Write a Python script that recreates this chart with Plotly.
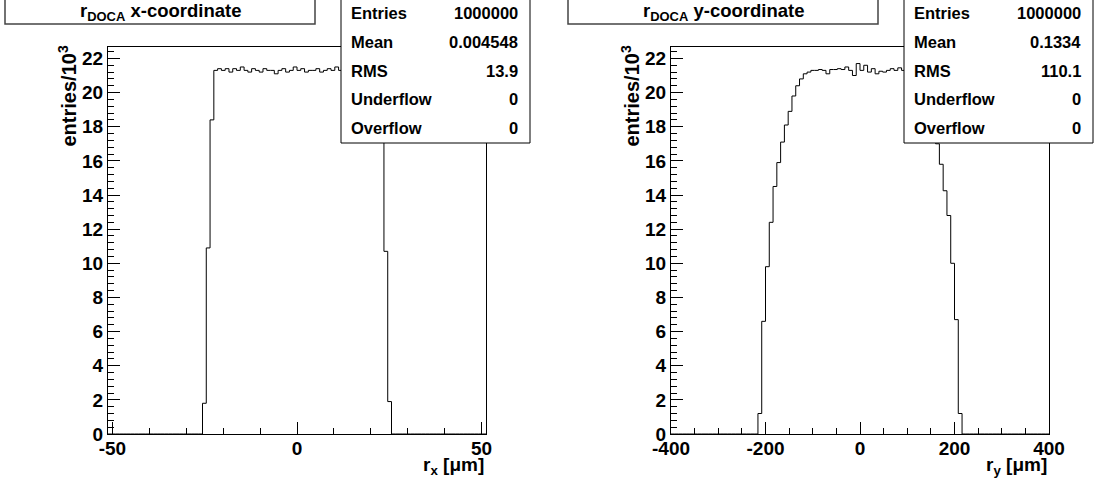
import numpy as np
import plotly.graph_objects as go

W, H = 1096, 485

# ---------------- data (entries / 10^3) ----------------
# left histogram: r_x, 100 bins from -51.2 to 51.2 um
rx_range = (-51.2, 51.2)
rx_nbins = 100
rx_first_bin = 25          # index of first non-empty bin
rx_counts = [1.8, 10.9, 18.4,
             21.3, 21.4, 21.3, 21.4, 21.2, 21.4, 21.3, 21.5, 21.3, 21.2, 21.4,
             21.3, 21.2, 21.4, 21.3, 21.3, 21.1, 21.3, 21.4, 21.2, 21.3, 21.5,
             21.3, 21.4, 21.2, 21.3, 21.3, 21.4, 21.2, 21.3, 21.4, 21.3, 21.5,
             21.3, 21.2, 21.4, 21.3, 21.3, 21.2, 21.4, 21.3, 21.3, 21.4, 21.2,
             18.4, 10.7, 1.9]

# right histogram: r_y, 100 bins from -400 to 400 um
ry_range = (-400.0, 400.0)
ry_nbins = 100
ry_first_bin = 23
ry_counts = [1.2, 6.6, 9.8, 12.4, 14.5, 15.9, 17.1, 18.1, 18.9, 19.8, 20.4, 20.8, 21.1,
             21.2, 21.3, 21.3, 21.35, 21.3, 21.1, 21.35, 21.35, 21.4, 21.35, 21.5, 21.3,
             21.0, 21.7, 21.3, 21.6, 21.2, 21.4, 21.1, 21.25, 21.2, 21.3, 21.4, 21.3,
             21.45, 21.3, 21.2, 21.3,
             21.0, 20.8, 20.3, 19.7, 19.0, 18.0, 17.0, 15.8, 14.25, 12.8, 10.0, 6.7, 1.2]

y_range = (0.0, 22.67)

# axis tick labels
rx_tickvals = [-50, 0, 50]
rx_ticktext = ["-50", "0", "50"]
ry_tickvals = [-400, -200, 0, 200, 400]
ry_ticktext = ["-400", "-200", "0", "200", "400"]
y_tickvals = [0, 2, 4, 6, 8, 10, 12, 14, 16, 18, 20, 22]
y_ticktext = ["0", "2", "4", "6", "8", "10", "12", "14", "16", "18", "20", "22"]

titles = ["r<sub>DOCA</sub> x-coordinate", "r<sub>DOCA</sub> y-coordinate"]
x_titles = ["r<sub>x</sub> [\u03bcm]", "r<sub>y</sub> [\u03bcm]"]
y_title = "entries/10<sup>3</sup>"
stat_labels = ["Entries", "Mean", "RMS", "Underflow", "Overflow"]
stat_values_x = ["1000000", "0.004548", "13.9", "0", "0"]
stat_values_y = ["1000000", "0.1334", "110.1", "0", "0"]

# ---------------- layout geometry (pixels) ----------------
FONT = "Liberation Sans, Arial, Helvetica, sans-serif"
frames = [(108, 486), (671, 1049)]
frame_top, frame_bot = 47, 434
title_boxes = [(5, 315), (568, 878)]
stat_boxes = [(341, 530), (904, 1093)]
minor_dticks = [10, 50]


def px(x):
    return x / W


def py(y):
    return 1 - y / H


def full_counts(rng, nb, first, vals):
    c = [0.0] * nb
    for i, v in enumerate(vals):
        c[first + i] = v
    edges = np.linspace(rng[0], rng[1], nb + 1)
    return edges, np.array(c)


fig = go.Figure()

hists = [full_counts(rx_range, rx_nbins, rx_first_bin, rx_counts),
         full_counts(ry_range, ry_nbins, ry_first_bin, ry_counts)]

for k, (edges, counts) in enumerate(hists):
    xs = list(edges[:-1]) + [edges[-1]]
    ys = list(counts) + [counts[-1]]
    fig.add_trace(go.Scatter(x=xs, y=ys, mode="lines", line_shape="hv",
                             line=dict(color="black", width=1),
                             xaxis="x" if k == 0 else "x2",
                             yaxis="y" if k == 0 else "y2",
                             showlegend=False, hoverinfo="skip"))

tickfont = dict(family=FONT, size=19, color="black", weight="bold")

for k, (x0, x1) in enumerate(frames):
    xa = dict(domain=[px(x0), px(x1)], range=list(rx_range if k == 0 else ry_range),
              showline=True, mirror=True, linecolor="black", linewidth=1,
              showgrid=False, zeroline=False, automargin=False,
              ticks="inside", ticklen=12, tickcolor="black", tickwidth=1,
              tickmode="array",
              tickvals=rx_tickvals if k == 0 else ry_tickvals,
              ticktext=rx_ticktext if k == 0 else ry_ticktext,
              ticklabelstandoff=-3,
              minor=dict(ticks="inside", ticklen=6, tickcolor="black", tickwidth=1,
                         tickmode="linear", tick0=0, dtick=minor_dticks[k], showgrid=False),
              tickfont=tickfont, anchor="y" if k == 0 else "y2")
    ya = dict(domain=[py(frame_bot), py(frame_top)], range=list(y_range),
              showline=True, mirror=True, linecolor="black", linewidth=1,
              showgrid=False, zeroline=False, automargin=False,
              ticks="inside", ticklen=12, tickcolor="black", tickwidth=1,
              tickmode="array", tickvals=y_tickvals, ticktext=y_ticktext,
              minor=dict(ticks="inside", ticklen=6, tickcolor="black", tickwidth=1,
                         tickmode="linear", tick0=0, dtick=0.4, showgrid=False),
              tickfont=tickfont, anchor="x" if k == 0 else "x2")
    if k == 0:
        fig.update_layout(xaxis=xa, yaxis=ya)
    else:
        fig.update_layout(xaxis2=xa, yaxis2=ya)

shapes = []
annotations = []

for k in range(2):
    tx0, tx1 = title_boxes[k]
    shapes.append(dict(type="rect", xref="paper", yref="paper",
                       x0=px(tx0), x1=px(tx1), y0=py(24), y1=py(-3),
                       line=dict(color="#444444", width=1.5),
                       fillcolor="white", layer="above"))
    annotations.append(dict(text=titles[k], xref="paper", yref="paper",
                            x=px((tx0 + tx1) / 2), y=py(12), xanchor="center", yanchor="middle",
                            showarrow=False,
                            font=dict(family=FONT, size=18.5, color="black", weight="bold")))
    sx0, sx1 = stat_boxes[k]
    shapes.append(dict(type="rect", xref="paper", yref="paper",
                       x0=px(sx0), x1=px(sx1), y0=py(143), y1=py(-3),
                       line=dict(color="black", width=1),
                       fillcolor="white", layer="above"))
    vals = stat_values_x if k == 0 else stat_values_y
    for r, (lab, val) in enumerate(zip(stat_labels, vals)):
        yc = 12.5 + r * 29
        annotations.append(dict(text=lab, xref="paper", yref="paper",
                                x=px(sx0 + 8), y=py(yc), xanchor="left", yanchor="middle",
                                showarrow=False,
                                font=dict(family=FONT, size=16.5, color="black", weight="bold")))
        annotations.append(dict(text=val, xref="paper", yref="paper",
                                x=px(sx1 - 10), y=py(yc), xanchor="right", yanchor="middle",
                                showarrow=False,
                                font=dict(family=FONT, size=16.5, color="black", weight="bold")))
    fx0, fx1 = frames[k]
    annotations.append(dict(text=x_titles[k], xref="paper", yref="paper",
                            x=px(fx1), y=py(466), xanchor="right", yanchor="middle",
                            showarrow=False,
                            font=dict(family=FONT, size=19, color="black", weight="bold")))
    annotations.append(dict(text=y_title, xref="paper", yref="paper",
                            x=px(fx0 - 41), y=py(frame_top - 3), xanchor="center", yanchor="top",
                            textangle=-90, showarrow=False,
                            font=dict(family=FONT, size=20, color="black", weight="bold")))

fig.update_layout(template="none", width=W, height=H,
                  margin=dict(l=0, r=0, t=0, b=0, pad=0, autoexpand=False),
                  paper_bgcolor="white", plot_bgcolor="white",
                  shapes=shapes, annotations=annotations, showlegend=False)

fig.write_html("out.html")
